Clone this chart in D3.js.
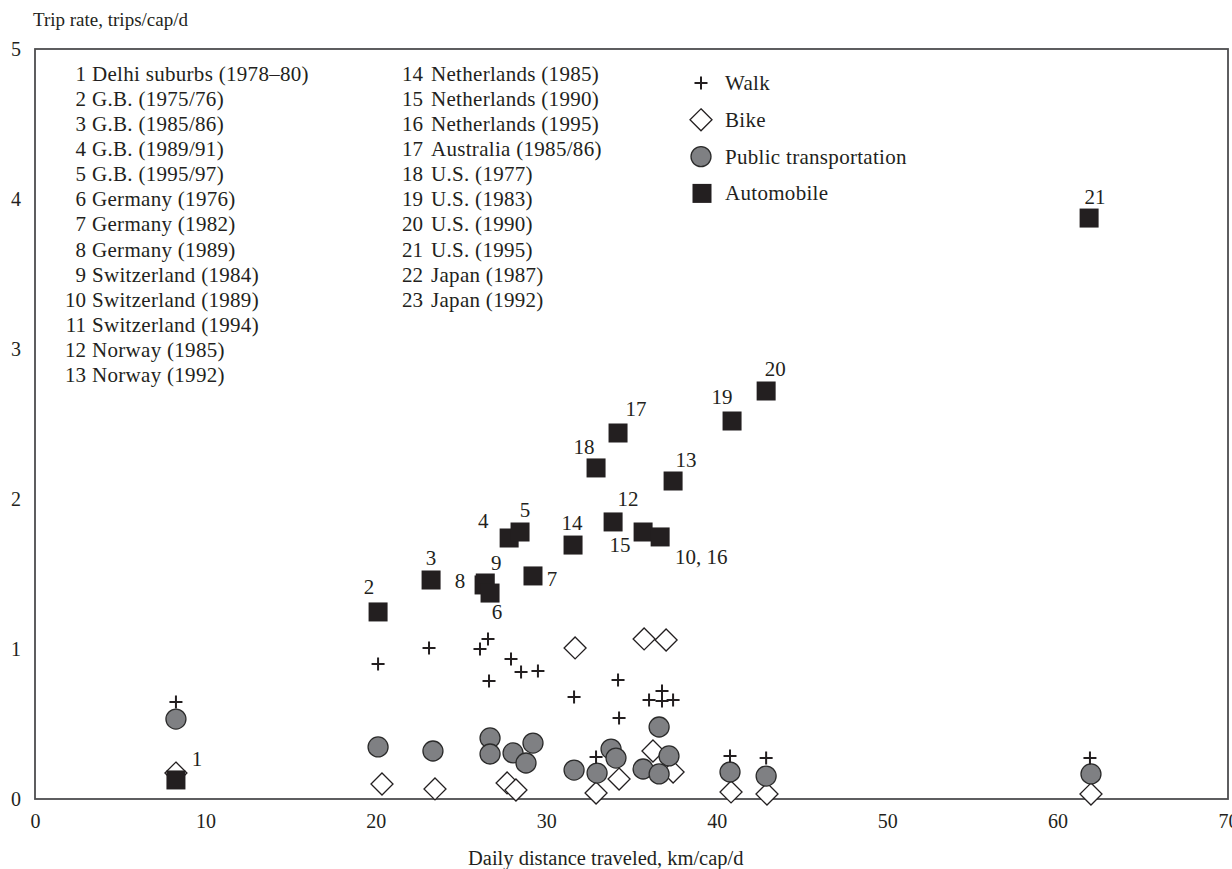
<!DOCTYPE html>
<html>
<head>
<meta charset="utf-8">
<script src="https://cdn.jsdelivr.net/npm/d3@7/dist/d3.min.js"></script>
<style>
  html, body { margin: 0; padding: 0; background: #fff; }
  svg { display: block; }
  text { font-family: "Liberation Serif", "DejaVu Serif", serif; fill: #231f20; }
</style>
</head>
<body>
<svg id="chart" width="1232" height="869"></svg>
<script>
// ---------------- data ----------------
const xTicks = [0, 10, 20, 30, 40, 50, 60, 70];
const yTicks = [0, 1, 2, 3, 4, 5];
const xTitle = "Daily distance traveled, km/cap/d";
const yTitle = "Trip rate, trips/cap/d";

const legendCol1 = [
  "Delhi suburbs (1978–80)", "G.B. (1975/76)", "G.B. (1985/86)", "G.B. (1989/91)",
  "G.B. (1995/97)", "Germany (1976)", "Germany (1982)", "Germany (1989)",
  "Switzerland (1984)", "Switzerland (1989)", "Switzerland (1994)", "Norway (1985)", "Norway (1992)"
];
const legendCol2 = [
  "Netherlands (1985)", "Netherlands (1990)", "Netherlands (1995)", "Australia (1985/86)",
  "U.S. (1977)", "U.S. (1983)", "U.S. (1990)", "U.S. (1995)", "Japan (1987)", "Japan (1992)"
];
const modeNames = ["Walk", "Bike", "Public transportation", "Automobile"];

// Automobile: [distance, trip rate, label]
const autoPoints = [
  [8.27, 0.127, "1"], [20.13, 1.247, "2"], [23.24, 1.46, "3"], [27.82, 1.74, "4"],
  [28.46, 1.78, "5"], [26.35, 1.427, "8"], [26.42, 1.44, "9"], [26.70, 1.373, "6"],
  [29.22, 1.487, "7"], [31.57, 1.693, "14"], [33.92, 1.847, "12"], [35.68, 1.78, "15"],
  [36.68, 1.747, "10, 16"], [37.44, 2.12, "13"], [32.92, 2.207, "18"], [34.21, 2.44, "17"],
  [40.90, 2.52, "19"], [42.90, 2.72, "20"], [61.85, 3.873, "21"]
];
// Walk: [distance, trip rate]
const walkPoints = [
  [8.27, 0.647], [20.13, 0.90], [23.12, 1.007], [26.58, 1.067], [26.11, 1.00],
  [26.64, 0.787], [27.93, 0.933], [28.52, 0.847], [29.51, 0.853], [31.63, 0.68],
  [34.21, 0.793], [34.27, 0.54], [36.79, 0.72], [36.03, 0.66], [36.79, 0.653],
  [37.44, 0.66], [32.92, 0.28], [40.78, 0.287], [42.90, 0.273], [61.90, 0.273]
];
// Bike
const bikePoints = [
  [8.27, 0.173], [20.36, 0.10], [23.47, 0.067], [27.70, 0.107], [28.22, 0.06],
  [31.69, 1.007], [35.74, 1.067], [37.03, 1.06], [36.26, 0.32], [34.27, 0.133],
  [37.44, 0.18], [32.92, 0.04], [40.84, 0.047], [42.95, 0.033], [61.96, 0.033]
];
// Public transportation
const ptPoints = [
  [8.27, 0.533], [20.13, 0.347], [23.35, 0.32], [26.70, 0.407], [26.70, 0.30],
  [28.05, 0.307], [29.22, 0.373], [28.81, 0.24], [31.63, 0.193], [32.98, 0.173],
  [33.80, 0.333], [34.09, 0.273], [35.68, 0.20], [37.20, 0.287], [36.62, 0.167],
  [36.62, 0.48], [40.78, 0.18], [42.90, 0.153], [61.96, 0.167]
];

// label offsets (px) for automobile point labels, keyed by label
const labelOffsets = {
  "1": [21, -21], "2": [-9, -25], "3": [0, -22], "4": [-26, -17], "5": [5, -22],
  "6": [7, 19], "7": [19, 3], "8": [-24, -4], "9": [11, -20], "10, 16": [41, 20],
  "12": [15, -23], "13": [13, -21], "14": [-1, -22], "15": [-23, 13], "17": [18, -24],
  "18": [-12, -21], "19": [-10, -24], "20": [9, -22], "21": [6, -21]
};

// ---------------- drawing ----------------
const svg = d3.select("#chart");
const x = d3.scaleLinear().domain([0, 70]).range([35, 1228]);
const y = d3.scaleLinear().domain([0, 5]).range([799, 49]);
const ink = "#231f20";
const fs = 21;
const ls = 0.3;

// frame
svg.append("rect")
  .attr("x", x(0)).attr("y", y(5))
  .attr("width", x(70) - x(0)).attr("height", y(0) - y(5))
  .attr("fill", "none").attr("stroke", "#4d4d4f").attr("stroke-width", 1.8);

// axes (labels only)
const gx = svg.append("g").attr("transform", `translate(0,${y(0)})`)
  .call(d3.axisBottom(x).tickValues(xTicks).tickSize(0).tickPadding(15).tickFormat(d3.format("d")));
const gy = svg.append("g").attr("transform", `translate(${x(0)},0)`)
  .call(d3.axisLeft(y).tickValues(yTicks).tickSize(0).tickPadding(14).tickFormat(d3.format("d")));
[gx, gy].forEach(g => {
  g.select(".domain").remove();
  g.selectAll("text").attr("font-size", 20).attr("font-family", "Liberation Serif").attr("fill", ink);
});

// axis titles
svg.append("text").attr("x", 33).attr("y", 26).attr("font-size", 19).text(yTitle);
svg.append("text").attr("x", 468).attr("y", 865).attr("font-size", 20.5).text(xTitle);

// legend columns
const rowH = 25.08, row0 = 74;
const c1 = svg.append("g");
legendCol1.forEach((name, i) => {
  c1.append("text").attr("x", 86).attr("y", row0 + i * rowH).attr("text-anchor", "end")
    .attr("dominant-baseline", "central").attr("font-size", fs).text(i + 1);
  c1.append("text").attr("x", 92).attr("y", row0 + i * rowH).attr("dominant-baseline", "central")
    .attr("font-size", fs).attr("letter-spacing", ls).text(name);
});
legendCol2.forEach((name, i) => {
  c1.append("text").attr("x", 423).attr("y", row0 + i * rowH).attr("text-anchor", "end")
    .attr("dominant-baseline", "central").attr("font-size", fs).text(i + 14);
  c1.append("text").attr("x", 431).attr("y", row0 + i * rowH).attr("dominant-baseline", "central")
    .attr("font-size", fs).attr("letter-spacing", ls).text(name);
});

// symbol helpers
function drawDiamond(g, cx, cy, r) {
  g.append("path")
    .attr("d", `M${cx},${cy - r}L${cx + r},${cy}L${cx},${cy + r}L${cx - r},${cy}Z`)
    .attr("fill", "#fff").attr("stroke", ink).attr("stroke-width", 1.3);
}
function drawCircle(g, cx, cy) {
  g.append("circle").attr("cx", cx).attr("cy", cy).attr("r", 10)
    .attr("fill", "#7f8083").attr("stroke", "#2b2b2b").attr("stroke-width", 1.3);
}
function drawPlus(g, cx, cy) {
  const h = 6.5;
  g.append("path").attr("d", `M${cx - h},${cy}H${cx + h}M${cx},${cy - h}V${cy + h}`)
    .attr("stroke", ink).attr("stroke-width", 2).attr("fill", "none");
}
function drawSquare(g, cx, cy) {
  g.append("rect").attr("x", cx - 9.5).attr("y", cy - 9.5).attr("width", 19).attr("height", 19)
    .attr("fill", ink);
}

const marks = svg.append("g");
bikePoints.forEach(d => drawDiamond(marks, x(d[0]), y(d[1]), 11));
ptPoints.forEach(d => drawCircle(marks, x(d[0]), y(d[1])));
walkPoints.forEach(d => drawPlus(marks, x(d[0]), y(d[1])));
autoPoints.forEach(d => drawSquare(marks, x(d[0]), y(d[1])));

// point labels
autoPoints.forEach(d => {
  const off = labelOffsets[d[2]] || [0, -20];
  svg.append("text").attr("x", x(d[0]) + off[0]).attr("y", y(d[1]) + off[1])
    .attr("text-anchor", "middle").attr("dominant-baseline", "central")
    .attr("font-size", fs).text(d[2]);
});

// mode legend
const lg = svg.append("g");
const lgX = 701, lgText = 725, lgY0 = 83, lgStep = 36.8;
modeNames.forEach((name, i) => {
  const cy = lgY0 + i * lgStep;
  if (i === 0) drawPlus(lg, lgX, cy);
  if (i === 1) drawDiamond(lg, lgX, cy, 11);
  if (i === 2) drawCircle(lg, lgX, cy);
  if (i === 3) drawSquare(lg, lgX + 1, cy);
  lg.append("text").attr("x", lgText).attr("y", cy).attr("dominant-baseline", "central")
    .attr("font-size", fs).attr("letter-spacing", ls).text(name);
});
</script>
</body>
</html>
